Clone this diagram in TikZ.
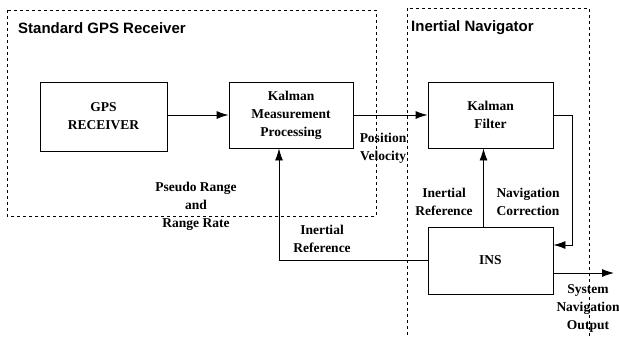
\documentclass[tikz,border=0pt]{standalone}
\usepackage{fontspec}
\setmainfont{Liberation Serif}
\setsansfont{Liberation Sans}
\usetikzlibrary{arrows.meta}

\tikzset{
  blk/.style={draw, line width=0.9pt, align=center, inner sep=0pt,
    font=\fontsize{13.5}{18}\selectfont\bfseries},
  lbl/.style={align=center, inner sep=0pt,
    font=\fontsize{13.5}{18}\selectfont\bfseries},
  ttl/.style={anchor=west, inner sep=0pt,
    font=\fontsize{15}{18}\selectfont\sffamily\bfseries},
  grp/.style={line width=0.8pt, dash pattern=on 3pt off 3pt},
  arr/.style={line width=0.9pt, -{Latex[length=12pt,width=8pt]}},
}

\begin{document}
\begin{tikzpicture}[x=1pt,y=1pt,yscale=-1,xscale=1]
\useasboundingbox (0,0) rectangle (619,338);

%Shape: dashed groups
\draw[grp] (7,10) rectangle (376,216);
\draw[grp] (407,335) -- (407,8) -- (589,8) -- (589,338);

% Text Node
\node[ttl] (gpsttl) at (18,28) {Standard GPS Receiver};
% Text Node
\node[ttl] (insttl) at (411,28) {Inertial Navigator};

%Shape: Rectangle
\node[blk, minimum width=127, minimum height=69] (gps) at (103.5,116.5) {GPS\\RECEIVER};
%Shape: Rectangle
\node[blk, minimum width=124, minimum height=66] (kmp) at (291,115) {Kalman\\Measurement\\Processing};
%Shape: Rectangle
\node[blk, minimum width=125, minimum height=66] (kf) at (490.5,115) {Kalman\\Filter};
%Shape: Rectangle
\node[blk, minimum width=125, minimum height=67] (ins) at (490.5,260.5) {INS};

\coordinate (fbk) at (572,245);
\coordinate (out) at (614,273);

%Straight Lines
\draw[arr] (gps.east |- kmp.west) -- (kmp.west);
\draw[arr] (kmp) -- (kf);
\draw[arr] (kf.east) -| (fbk) -- (fbk -| ins.east);
\draw[arr] ([xshift=-7pt]ins.north) -- ([xshift=-7pt]kf.south);
\draw[arr] (ins.west) -| ([xshift=-12pt]kmp.south);
\draw[arr] (out -| ins.east) -- (out);

% Text Node
\node[lbl] (posvel) at (383,148) {Position\\Velocity};
% Text Node
\node[lbl] (pseudo) at (196,206) {Pseudo Range\\and\\Range Rate};
% Text Node
\node[lbl] (irefa) at (322,239) {Inertial\\Reference};
% Text Node
\node[lbl] (irefb) at (444,202) {Inertial\\Reference};
% Text Node
\node[lbl] (navcor) at (528,202) {Navigation\\Correction};
% Text Node
\node[lbl] (sysout) at (588,308) {System\\Navigation\\Output};

\end{tikzpicture}
\end{document}
